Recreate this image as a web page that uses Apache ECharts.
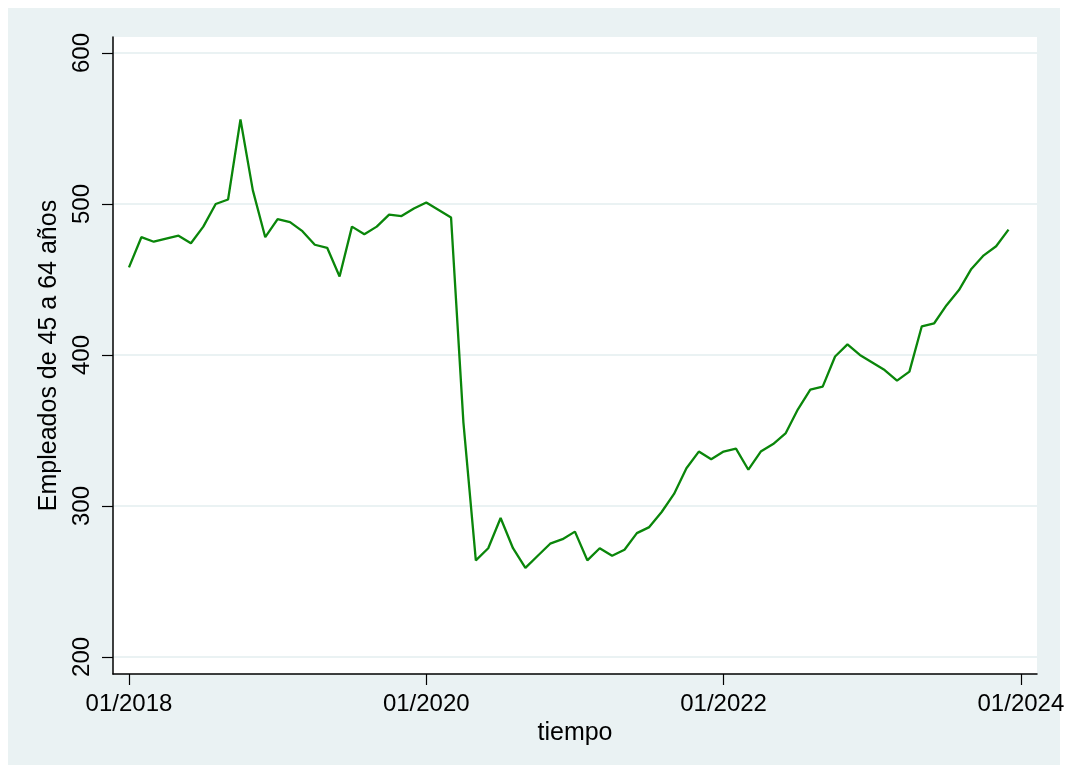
<!DOCTYPE html>
<html>
<head>
<meta charset="utf-8">
<script src="https://cdn.jsdelivr.net/npm/echarts@6/dist/echarts.min.js"></script>
<style>
html,body{margin:0;padding:0;background:#fff;}
#chart{width:1068px;height:772px;}
</style>
</head>
<body>
<div id="chart"></div>
<script>
// Monthly series, index 0 = 01/2018
const empleados = [
  458, 478, 475, 477, 479, 474, 485, 500, 503, 556, 509, 478,
  490, 488, 482, 473, 471, 452, 485, 480, 485, 493, 492, 497,
  501, 496, 491, 355, 264, 272, 292, 272, 259, 267, 275, 278,
  283, 264, 272, 267, 271, 282, 286, 296, 308, 325, 336, 331,
  336, 338, 324, 336, 341, 348, 364, 377, 379, 399, 407, 400,
  395, 390, 383, 389, 419, 421, 433, 443, 457, 466, 472, 483
];
const xTickPositions = [0, 24, 48, 72];
const xTickLabels = ['01/2018', '01/2020', '01/2022', '01/2024'];
const yTickValues = [200, 300, 400, 500, 600];

const seriesData = empleados.map((v, i) => [i, v]);

const chart = echarts.init(document.getElementById('chart'), null, {renderer: 'canvas'});
const font = 'Liberation Sans, Arial, Helvetica, sans-serif';
chart.setOption({
  backgroundColor: '#ffffff',
  animation: false,
  graphic: [{
    type: 'rect', z: -10, silent: true,
    shape: {x: 8, y: 8, width: 1052, height: 757},
    style: {fill: '#eaf2f3'}
  }],
  grid: {
    left: 113, right: 31, top: 37, bottom: 98,
    show: true, backgroundColor: '#ffffff', borderWidth: 0
  },
  xAxis: {
    type: 'value',
    min: -1.29, max: 73.3,
    name: 'tiempo',
    nameLocation: 'middle',
    nameGap: 46,
    nameTextStyle: {fontFamily: font, fontSize: 25, color: '#000'},
    axisLine: {show: true, onZero: false, lineStyle: {color: '#000', width: 1.5}},
    axisTick: {show: true, length: 11, customValues: xTickPositions, lineStyle: {color: '#000', width: 1.2}},
    axisLabel: {
      customValues: xTickPositions,
      margin: 18,
      fontFamily: font, fontSize: 24, color: '#000',
      formatter: function (v) {
        const k = xTickPositions.indexOf(Math.round(v));
        return k >= 0 ? xTickLabels[k] : '';
      }
    },
    splitLine: {show: false}
  },
  yAxis: {
    type: 'value',
    min: 188.7, max: 610.6,
    name: 'Empleados de 45 a 64 años',
    nameLocation: 'middle',
    nameGap: 41,
    nameTextStyle: {fontFamily: font, fontSize: 25, color: '#000'},
    axisLine: {show: true, onZero: false, lineStyle: {color: '#000', width: 1.5}},
    axisTick: {show: true, length: 11, customValues: yTickValues, lineStyle: {color: '#000', width: 1.2}},
    axisLabel: {
      customValues: yTickValues,
      rotate: 90,
      margin: 19,
      fontFamily: font, fontSize: 24, color: '#000'
    },
    splitLine: {show: true, lineStyle: {color: '#eaf2f3', width: 2}}
  },
  series: [{
    type: 'line',
    data: seriesData,
    showSymbol: false,
    symbol: 'none',
    lineStyle: {color: '#0a860a', width: 2.3},
    itemStyle: {color: '#0a860a'}
  }]
});
</script>
</body>
</html>
